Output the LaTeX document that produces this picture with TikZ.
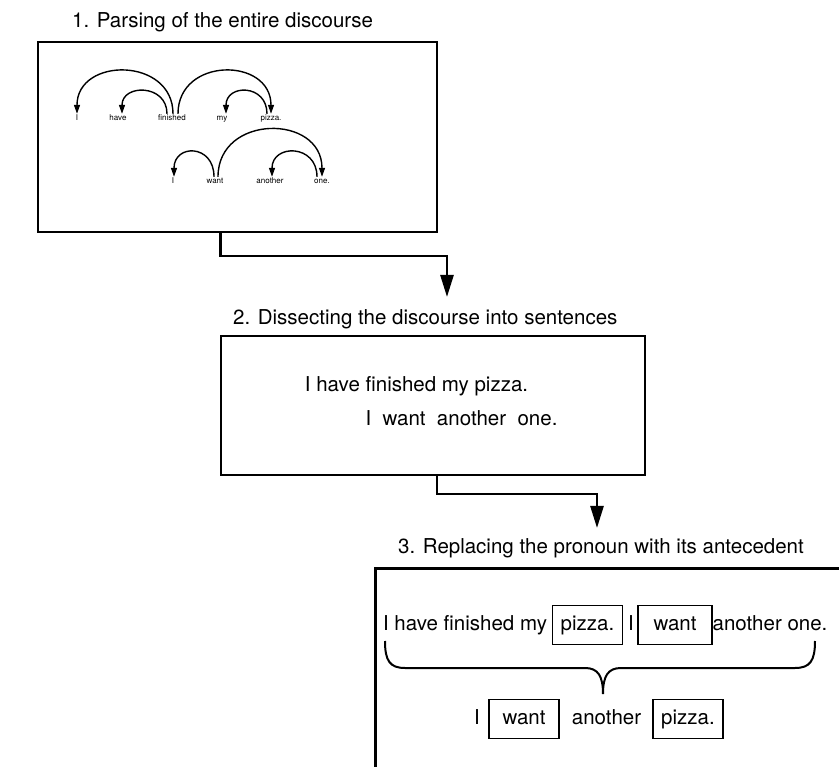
\documentclass[tikz,border=0pt]{standalone}
\usepackage{fontspec}
\setmainfont{TeX Gyre Heros}
\usetikzlibrary{arrows.meta}

\begin{document}
\begin{tikzpicture}[x=1pt,y=-1pt,
  panel/.style={draw,line width=2.5pt,inner sep=0pt},
  heading/.style={anchor=base west,inner sep=0pt,font=\fontsize{20.5}{24}\selectfont},
  tok/.style={inner sep=1pt,text height=6pt,text depth=2pt,font=\fontsize{8}{9}\selectfont},
  dep/.style={line width=1.4pt,-{Triangle[length=9pt,width=6pt]}},
  flow/.style={line width=2.5pt,-{Triangle[length=22pt,width=13pt]}},
  wd/.style={inner sep=0pt,text height=15pt,text depth=4.5pt,font=\fontsize{20.5}{24}\selectfont},
  wbox/.style={wd,draw,line width=1.8pt,minimum height=39pt,minimum width=70pt}]
  \useasboundingbox (0,0) rectangle (839,767);
  \clip (0,0) rectangle (839,767);

  % the three panels
  \node[panel,minimum width=399pt,minimum height=190pt] (parse) at (237.5,137) {};
  \node[panel,minimum width=424pt,minimum height=139pt] (split) at (433,405.5) {};
  \node[panel,minimum width=600pt,minimum height=400pt,anchor=north west] (subst) at (374,567) {};
  \node[heading] (t1) at (72,28) {1. Parsing of the entire discourse};
  \node[heading] (t2) at (233,325) {2. Dissecting the discourse into sentences};
  \node[heading] (t3) at (398,553) {3. Replacing the pronoun with its antecedent};

  % dependency parse
  \foreach \w/\x/\t in {i1/77/I, have/118/have, fin/172/finished, my/222/my, pz/271/pizza.}
    \node[tok] (\w) at (\x,119) {\t};
  \foreach \w/\x/\t in {i2/173/I, want/215/want, anoth/270/another, one/322/one.}
    \node[tok] (\w) at (\x,182) {\t};
  \draw[dep] ([xshift=1pt]fin.north) .. controls +(0,-57) and +(0,-57) .. (i1.north);
  \draw[dep] ([xshift=-5pt]fin.north) .. controls +(0,-30) and +(0,-30) .. ([xshift=4pt]have.north);
  \draw[dep] ([xshift=6pt]fin.north) .. controls +(0,-57) and +(0,-57) .. (pz.north);
  \draw[dep] ([xshift=-4pt]pz.north) .. controls +(0,-30) and +(0,-30) .. ([xshift=4pt]my.north);
  \draw[dep] ([xshift=-1pt]want.north) .. controls +(0,-33) and +(0,-33) .. ([xshift=1pt]i2.north);
  \draw[dep] ([xshift=3pt]want.north) .. controls +(0,-63) and +(0,-63) .. (one.north);
  \draw[dep] ([xshift=-5pt]one.north) .. controls +(0,-33) and +(0,-33) .. ([xshift=2pt]anoth.north);

  % sentences
  \node[wd] (s1) at (416.5,386.5) {I have finished my pizza.};
  \node[wd] (s2) at (461.5,419.8) {I~ want~ another~ one.};

  % arrows between the steps
  \coordinate (in2) at (447,297);
  \coordinate (in3) at (597,528);
  \draw[flow] ([xshift=-17pt]parse.south) -- ++(0,23) -| (in2);
  \draw[flow] ([xshift=4pt]split.south) -- ++(0,18) -| (in3);

  % substitution
  \node[wd] (r1a) at (465,625) {I have finished my};
  \node[wbox] (r1b) at (587.5,625) {pizza.};
  \node[wd] (r1c) at (631,625) {I};
  \node[wbox,minimum width=74pt] (r1d) at (675,625) {want};
  \node[wd] (r1e) at (770,625) {another one.};
  \node[wd] (r2a) at (477,719) {I};
  \node[wbox] (r2b) at (524,719) {want};
  \node[wd] (r2c) at (606.5,719) {another};
  \node[wbox] (r2d) at (688,719) {pizza.};

  % brace
  \coordinate (bl) at (385,641);
  \coordinate (br) at (815,641);
  \coordinate (btip) at (603,694);
  \draw[line width=2pt] (bl) .. controls (385,661) and (390,668) .. (405,668) -- (585,668)
    .. controls (598,668) and (603,676) .. (btip)
    .. controls (603,676) and (608,668) .. (621,668) -- (795,668)
    .. controls (810,668) and (815,661) .. (br);
\end{tikzpicture}
\end{document}
